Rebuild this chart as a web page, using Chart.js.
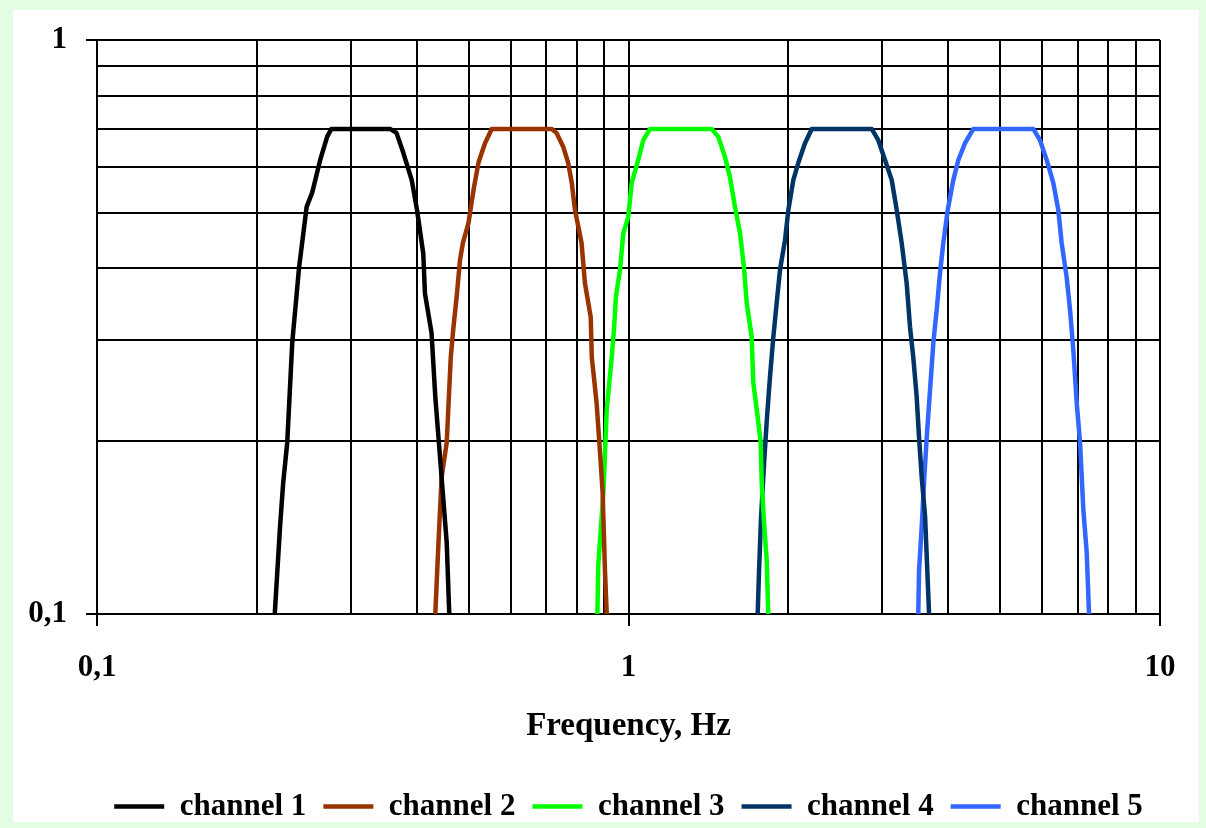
<!DOCTYPE html>
<html>
<head>
<meta charset="utf-8">
<script src="https://cdn.jsdelivr.net/npm/chart.js@4/dist/chart.umd.min.js"></script>
<style>
  html, body { margin: 0; padding: 0; background: #e3fde3; overflow: hidden; }
  #wrap { position: absolute; left: 0; top: 0; width: 1206px; height: 828px; }
</style>
</head>
<body>
<div id="wrap"><canvas id="c" width="1206" height="828"></canvas></div>
<script>
// ---- Data ----
const seriesNames = ['channel 1', 'channel 2', 'channel 3', 'channel 4', 'channel 5'];

const ch1Freq = [0.216,0.221,0.224,0.228,0.233,0.240,0.248,0.254,0.263,0.271,0.276,0.356,0.366,0.377,0.391,0.400,0.411,0.414,0.426,0.433,0.445,0.455,0.460];
const ch1Amp  = [0.100,0.142,0.169,0.199,0.297,0.402,0.512,0.542,0.618,0.678,0.700,0.700,0.689,0.636,0.570,0.506,0.425,0.362,0.309,0.239,0.173,0.133,0.100];

const ch2Freq = [0.433,0.439,0.445,0.455,0.463,0.468,0.475,0.482,0.488,0.500,0.511,0.522,0.537,0.553,0.717,0.732,0.754,0.770,0.782,0.793,0.816,0.828,0.849,0.853,0.871,0.884,0.894,0.903,0.910];
const ch2Amp  = [0.100,0.133,0.173,0.199,0.280,0.313,0.357,0.414,0.443,0.480,0.548,0.611,0.661,0.700,0.700,0.689,0.651,0.611,0.564,0.506,0.443,0.377,0.329,0.280,0.233,0.191,0.163,0.119,0.100];

const ch3Freq = [0.874,0.877,0.897,0.910,0.930,0.939,0.947,0.964,0.978,0.999,1.014,1.043,1.066,1.098,1.434,1.476,1.519,1.552,1.586,1.621,1.649,1.669,1.705,1.717,1.743,1.773,1.781,1.799,1.820,1.832];
const ch3Amp  = [0.100,0.121,0.163,0.227,0.280,0.313,0.357,0.398,0.461,0.492,0.564,0.618,0.669,0.700,0.700,0.678,0.625,0.577,0.512,0.461,0.402,0.348,0.304,0.253,0.227,0.199,0.169,0.144,0.124,0.100];

const ch4Freq = [1.750,1.760,1.775,1.801,1.822,1.846,1.873,1.900,1.928,1.970,1.999,2.042,2.087,2.148,2.212,2.868,2.951,3.038,3.128,3.196,3.266,3.337,3.386,3.434,3.485,3.521,3.562,3.614,3.640,3.677];
const ch4Amp  = [0.100,0.118,0.146,0.186,0.220,0.259,0.304,0.348,0.398,0.448,0.506,0.570,0.611,0.661,0.700,0.700,0.669,0.618,0.570,0.506,0.443,0.377,0.316,0.280,0.239,0.203,0.173,0.148,0.126,0.100];

const ch5Freq = [3.509,3.521,3.562,3.602,3.640,3.693,3.746,3.801,3.856,3.911,3.987,4.084,4.174,4.297,4.454,5.776,5.946,6.121,6.298,6.436,6.531,6.674,6.772,6.870,6.972,7.072,7.174,7.280,7.353];
const ch5Amp  = [0.100,0.119,0.142,0.173,0.203,0.246,0.297,0.339,0.393,0.443,0.506,0.570,0.618,0.661,0.700,0.700,0.669,0.618,0.564,0.506,0.443,0.386,0.339,0.288,0.233,0.199,0.152,0.128,0.100];

const xTickValues = [0.1,0.2,0.3,0.4,0.5,0.6,0.7,0.8,0.9,1,2,3,4,5,6,7,8,9,10];
const xMajorValues = [0.1, 1, 10];
const xTickLabels = ['0,1', '1', '10'];
const yTickValues = [0.1,0.2,0.3,0.4,0.5,0.6,0.7,0.8,0.9,1];
const yMajorValues = [0.1, 1];
const yTickLabels = ['0,1', '1'];
const xAxisTitle = 'Frequency, Hz';

const colors = ['#000000', '#993300', '#00ff00', '#003366', '#3366ff'];

// ---- Build ----
const freqs = [ch1Freq, ch2Freq, ch3Freq, ch4Freq, ch5Freq];
const amps = [ch1Amp, ch2Amp, ch3Amp, ch4Amp, ch5Amp];

function majorIndex(list, v) {
  for (let i = 0; i < list.length; i++) {
    if (Math.abs(list[i] - v) < 1e-9 * Math.max(1, list[i])) return i;
  }
  return -1;
}

const datasets = seriesNames.map((name, i) => ({
  label: name,
  data: freqs[i].map((f, j) => ({ x: f, y: amps[i][j] })),
  borderColor: colors[i],
  backgroundColor: colors[i],
  borderWidth: 4.5,
  pointRadius: 0,
  tension: 0,
  fill: false,
  borderJoinStyle: 'round'
}));

const bgPlugin = {
  id: 'bg',
  beforeDraw(chart) {
    const ctx = chart.ctx;
    ctx.save();
    ctx.fillStyle = '#e3fde3';
    ctx.fillRect(0, 0, chart.width, chart.height);
    ctx.fillStyle = '#ffffff';
    ctx.fillRect(13, 10, 1186, 812);
    ctx.restore();
  }
};

const serif = '"Liberation Serif", "Times New Roman", serif';
const tickFont = { family: serif, size: 31, weight: 'bold' };

new Chart(document.getElementById('c'), {
  type: 'line',
  data: { datasets },
  plugins: [bgPlugin],
  options: {
    responsive: false,
    animation: false,
    events: [],
    layout: { padding: { left: 0, right: 46, top: 40, bottom: -4 } },
    scales: {
      x: {
        type: 'logarithmic',
        min: 0.1,
        max: 10,
        afterBuildTicks(scale) {
          scale.ticks = xTickValues.map(v => ({ value: v, major: majorIndex(xMajorValues, v) >= 0 }));
        },
        afterFit(scale) {
          scale.height = 160;
          scale.paddingRight = 0;
          scale.paddingLeft = 0;
        },
        ticks: {
          autoSkip: false,
          maxRotation: 0,
          minRotation: 0,
          padding: 23,
          color: '#000',
          font: tickFont,
          callback(value) {
            const i = majorIndex(xMajorValues, value);
            return i >= 0 ? xTickLabels[i] : '';
          }
        },
        grid: {
          color: '#000',
          lineWidth: 2,
          tickLength: 12,
          tickWidth: 2,
          tickColor: (ctx) => (ctx.tick && majorIndex(xMajorValues, ctx.tick.value) >= 0) ? '#000' : 'rgba(0,0,0,0)'
        },
        border: { display: true, color: '#000', width: 2 },
        title: {
          display: true,
          text: xAxisTitle,
          color: '#000',
          font: { family: serif, size: 33, weight: 'bold' },
          padding: { top: 0, bottom: 28 }
        }
      },
      y: {
        type: 'logarithmic',
        min: 0.1,
        max: 1,
        afterBuildTicks(scale) {
          scale.ticks = yTickValues.map(v => ({ value: v, major: majorIndex(yMajorValues, v) >= 0 }));
        },
        afterFit(scale) { scale.width = 97; },
        ticks: {
          autoSkip: false,
          padding: 19,
          color: '#000',
          font: tickFont,
          callback(value) {
            const i = majorIndex(yMajorValues, value);
            return i >= 0 ? yTickLabels[i] : '';
          }
        },
        grid: {
          color: '#000',
          lineWidth: 2,
          tickLength: 11,
          tickWidth: 2,
          tickColor: (ctx) => (ctx.tick && majorIndex(yMajorValues, ctx.tick.value) >= 0) ? '#000' : 'rgba(0,0,0,0)'
        },
        border: { display: true, color: '#000', width: 2 }
      }
    },
    plugins: {
      legend: {
        position: 'bottom',
        fullSize: false,
        labels: {
          color: '#000',
          font: { family: serif, size: 31, weight: 'bold' },
          usePointStyle: true,
          pointStyle: 'line',
          pointStyleWidth: 50,
          padding: 17
        }
      },
      tooltip: { enabled: false }
    }
  }
});
</script>
</body>
</html>
